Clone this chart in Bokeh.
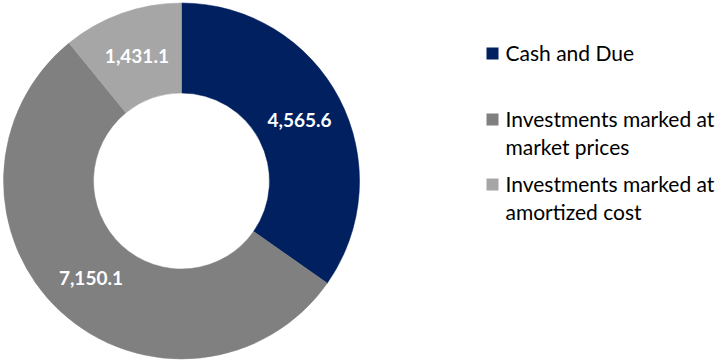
import math
from bokeh.plotting import figure
from bokeh.models import Range1d, ColumnDataSource
from bokeh.core.properties import value
from bokeh.embed import file_html
from bokeh.resources import INLINE

categories = ["Cash and Due", "Investments marked at market prices", "Investments marked at amortized cost"]
legend_lines = [["Cash and Due"], ["Investments marked at", "market prices"], ["Investments marked at", "amortized cost"]]
values = [4565.6, 7150.1, 1431.1]
colors = ["#002060", "#808080", "#A6A6A6"]

W, H = 722, 362
cx, cy = 181, H - 180.5
r_in, r_out = 88, 178
FONT = "Lato"

p = figure(width=W, height=H, x_range=Range1d(0, W), y_range=Range1d(0, H),
           output_backend="svg", toolbar_location=None, min_border=0)
p.axis.visible = False
p.grid.visible = False
p.outline_line_color = None
p.background_fill_color = "white"
p.border_fill_color = "white"

total = sum(values)
starts, ends, lx, ly, labels = [], [], [], [], []
cum = 0.0
for v in values:
    a0 = math.pi / 2 - 2 * math.pi * cum / total
    a1 = math.pi / 2 - 2 * math.pi * (cum + v) / total
    starts.append(a0)
    ends.append(a1)
    mid = (a0 + a1) / 2
    rm = (r_in + r_out) / 2
    lx.append(cx + rm * math.cos(mid))
    ly.append(cy + rm * math.sin(mid))
    labels.append(f"{v:,.1f}")
    cum += v

src = ColumnDataSource(dict(start=starts, end=ends, color=colors))
p.annular_wedge(x=cx, y=cy, inner_radius=r_in, outer_radius=r_out,
                start_angle="start", end_angle="end", direction="clock",
                fill_color="color", line_color="color", line_width=0.5, source=src,
                inner_radius_units="screen", outer_radius_units="screen")

p.text(x=lx, y=ly, text=labels, text_color="white", text_font=value(FONT),
       text_font_style="bold", text_font_size="19px", text_align="center",
       text_baseline="middle")

# legend
centers = [52, 118, 183]   # vertical centre of the first line of each entry
line_gap = 28
sq_x, sq_size, tx = 492, 12, 505
for i, lines in enumerate(legend_lines):
    c = centers[i]
    p.rect(x=[sq_x], y=[H - (c + 1)], width=sq_size, height=sq_size,
           width_units="screen", height_units="screen",
           fill_color=colors[i], line_color=None)
    for j, t in enumerate(lines):
        p.text(x=[tx], y=[H - (c + j * line_gap)], text=[t], text_color="black",
               text_font=value(FONT), text_font_size="21px",
               text_align="left", text_baseline="middle")

open("out.html", "w").write(file_html(p, INLINE))
